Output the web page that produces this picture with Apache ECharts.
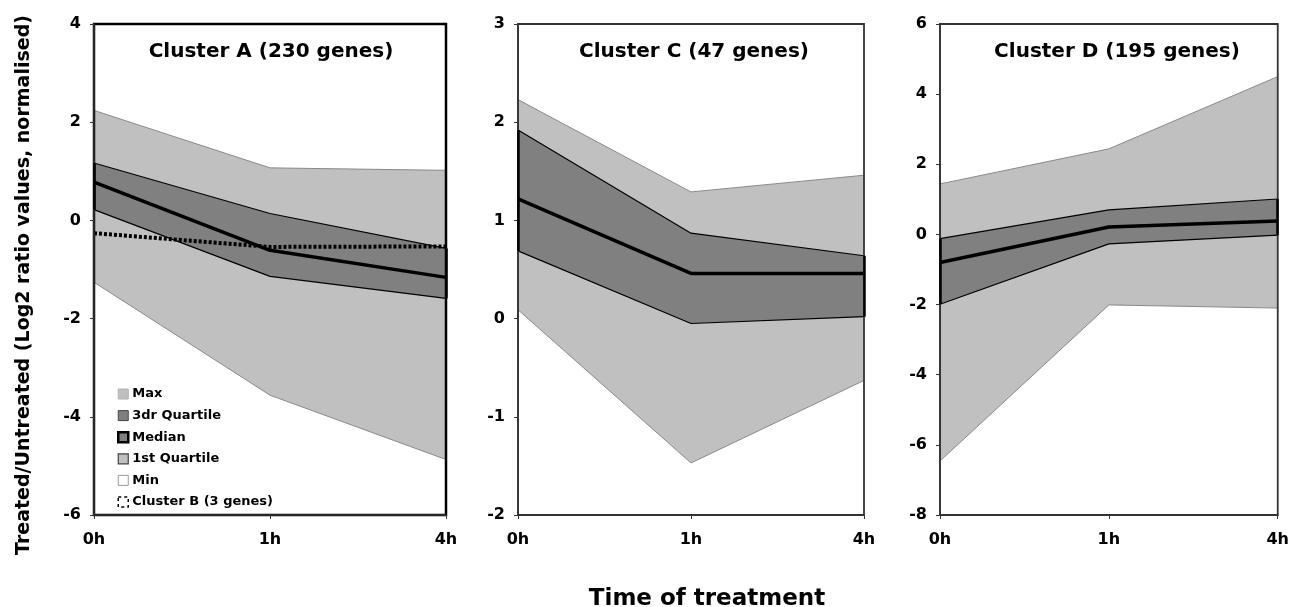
<!DOCTYPE html>
<html>
<head>
<meta charset="utf-8">
<script src="https://cdn.jsdelivr.net/npm/echarts@6/dist/echarts.min.js"></script>
<style>html,body{margin:0;padding:0;background:#fff;}#c{width:1292px;height:607px;}</style>
</head>
<body>
<div id="c"></div>
<script>
const categories = ['0h', '1h', '4h'];
const panelTitles = ['Cluster A (230 genes)', 'Cluster C (47 genes)', 'Cluster D (195 genes)'];
const seriesNames = ['Max', '3dr Quartile', 'Median', '1st Quartile', 'Min', 'Cluster B (3 genes)'];
// Cluster A
const aMax = [2.24, 1.07, 1.02];
const aQ3 = [1.17, 0.14, -0.57];
const aMed = [0.78, -0.61, -1.16];
const aQ1 = [0.22, -1.14, -1.59];
const aMin = [-1.26, -3.56, -4.87];
const clusterB = [-0.26, -0.54, -0.53];
// Cluster C
const cMax = [2.23, 1.29, 1.46];
const cQ3 = [1.92, 0.87, 0.64];
const cMed = [1.22, 0.46, 0.46];
const cQ1 = [0.69, -0.05, 0.02];
const cMin = [0.09, -1.47, -0.63];
// Cluster D
const dMax = [1.44, 2.44, 4.50];
const dQ3 = [-0.12, 0.70, 1.01];
const dMed = [-0.80, 0.21, 0.38];
const dQ1 = [-1.99, -0.27, -0.02];
const dMin = [-6.46, -2.01, -2.10];
// axis ranges [min, max, interval]
const yRanges = [[-6, 4, 2], [-2, 3, 1], [-8, 6, 2]];

const FONT = 'DejaVu Sans';
const LIGHT = '#c0c0c0', DARK = '#808080';

const panels = [
  {max: aMax, q3: aQ3, med: aMed, q1: aQ1, min: aMin, b: clusterB},
  {max: cMax, q3: cQ3, med: cMed, q1: cQ1, min: cMin},
  {max: dMax, q3: dQ3, med: dMed, q1: dQ1, min: dMin}
];
const gridPos = [
  {left: 94, width: 352},
  {left: 518, width: 346},
  {left: 940, width: 341}
];
const titleCenters = [271, 694, 1117];

const grids = [], xAxes = [], yAxes = [], series = [], titles = [];
panels.forEach((p, i) => {
  grids.push({left: gridPos[i].left, width: gridPos[i].width, top: 24, height: 491,
    show: true, z: 10, backgroundColor: 'transparent',
    borderColor: i === 0 ? '#000' : '#333', borderWidth: i === 0 ? 2.5 : 1.8});
  xAxes.push({type: 'category', gridIndex: i, data: categories, boundaryGap: false, z: 11,
    axisLine: {show: true, onZero: false, lineStyle: {color: '#333', width: 1.5}},
    axisTick: {show: true, length: 4, lineStyle: {color: '#333'}},
    axisLabel: {color: '#000', fontFamily: FONT, fontWeight: 'bold', fontSize: 16, margin: 17}});
  yAxes.push({type: 'value', gridIndex: i, min: yRanges[i][0], max: yRanges[i][1], interval: yRanges[i][2], z: 11,
    splitLine: {show: false},
    axisLine: {show: true, lineStyle: {color: '#333', width: 1.5}},
    axisTick: {show: true, length: 4, lineStyle: {color: '#333'}},
    axisLabel: {color: '#000', fontFamily: FONT, fontWeight: 'bold', fontSize: 16, margin: 13}});
  const base = {type: 'line', xAxisIndex: i, yAxisIndex: i, symbol: 'none', silent: true, animation: false};
  const last = categories.length - 1;
  series.push(Object.assign({}, base, {name: 'Max', data: p.max, z: 2,
    lineStyle: {color: '#8a8a8a', width: 1}, areaStyle: {color: LIGHT, opacity: 1, origin: 'start'}}));
  series.push(Object.assign({}, base, {name: '3dr Quartile', data: p.q3, z: 3,
    lineStyle: {color: '#000', width: 1.2}, areaStyle: {color: DARK, opacity: 1, origin: 'start'}}));
  series.push(Object.assign({}, base, {name: '1st Quartile', data: p.q1, z: 4,
    lineStyle: {color: '#000', width: 1.2}, areaStyle: {color: LIGHT, opacity: 1, origin: 'start'}}));
  series.push(Object.assign({}, base, {name: 'Min', data: p.min, z: 5,
    lineStyle: {color: '#8a8a8a', width: 1}, areaStyle: {color: '#fff', opacity: 1, origin: 'start'}}));
  series.push(Object.assign({}, base, {name: 'Median', data: p.med, z: 6,
    lineStyle: {color: '#000', width: 3.5},
    markLine: {silent: true, symbol: 'none', animation: false, z: 12,
      lineStyle: {color: '#000', width: 2.5, type: 'solid'}, label: {show: false},
      data: [
        [{coord: [0, p.q3[0]]}, {coord: [0, p.q1[0]]}],
        [{coord: [last, p.q3[last]]}, {coord: [last, p.q1[last]]}]
      ]}}));
  if (p.b) {
    series.push(Object.assign({}, base, {name: 'Cluster B (3 genes)', data: p.b, z: 7,
      lineStyle: {color: '#000', width: 4, type: [3, 2]}}));
  }
  titles.push({text: panelTitles[i], left: titleCenters[i], top: 42, padding: 0, textAlign: 'center',
    textStyle: {fontFamily: FONT, fontWeight: 'bold', fontSize: 20, color: '#000'}});
});
titles.push({text: 'Time of treatment', left: 707, top: 588, padding: 0, textAlign: 'center',
  textStyle: {fontFamily: FONT, fontWeight: 'bold', fontSize: 23, color: '#000'}});

const legendStyles = [
  {color: LIGHT, borderColor: '#b0b0b0', borderWidth: 1},
  {color: DARK, borderColor: '#444', borderWidth: 1},
  {color: DARK, borderColor: '#000', borderWidth: 2.5},
  {color: LIGHT, borderColor: '#444', borderWidth: 1.2},
  {color: '#fff', borderColor: '#999', borderWidth: 1},
  {color: '#fff', borderColor: '#000', borderWidth: 1.5, borderType: [3, 3]}
];

const chart = echarts.init(document.getElementById('c'), null, {renderer: 'canvas'});
chart.setOption({
  animation: false,
  backgroundColor: '#fff',
  title: titles,
  grid: grids,
  xAxis: xAxes,
  yAxis: yAxes,
  graphic: [{
    type: 'text', x: 24, y: 285, rotation: Math.PI / 2, z: 20,
    style: {text: 'Treated/Untreated (Log2 ratio values, normalised)', fill: '#000',
      font: 'bold 19px "DejaVu Sans"', align: 'center', verticalAlign: 'middle'}
  }],
  legend: {
    orient: 'vertical', left: 112, top: 382, itemWidth: 10, itemHeight: 10, itemGap: 7.6,
    selectedMode: false, z: 12,
    textStyle: {fontFamily: FONT, fontWeight: 'bold', fontSize: 13, color: '#000', padding: [0, 0, 0, -1], lineHeight: 14},
    data: seriesNames.map((n, k) => ({name: n, icon: 'rect', itemStyle: legendStyles[k], lineStyle: {opacity: 0, width: 0}}))
  },
  series: series
});
</script>
</body>
</html>
